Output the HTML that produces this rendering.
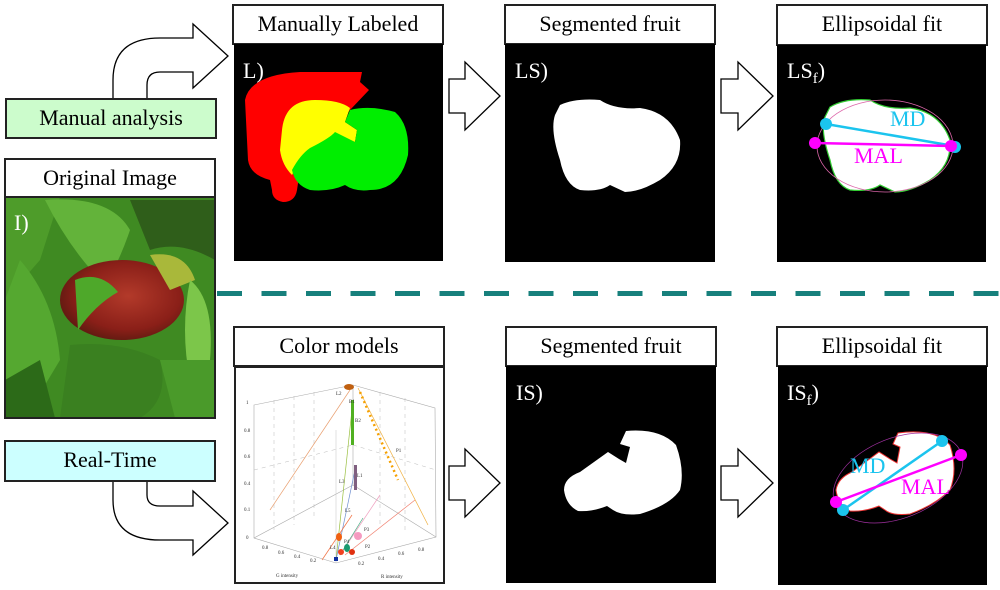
<!DOCTYPE html>
<html><head><meta charset="utf-8"><style>
html,body{margin:0;padding:0;background:#fff;width:1000px;height:590px;overflow:hidden}
svg{display:block}
text{font-family:"Liberation Serif",serif}
</style></head><body>
<svg width="1000" height="590" viewBox="0 0 1000 590" xmlns="http://www.w3.org/2000/svg">
<defs>
<radialGradient id="ap" cx="0.55" cy="0.45" r="0.6"><stop offset="0" stop-color="#b33a2a"/><stop offset="0.7" stop-color="#8a1f18"/><stop offset="1" stop-color="#5a1a10"/></radialGradient>
</defs>
<!-- dashed line -->
<line x1="217" y1="293.5" x2="1000" y2="293.5" stroke="#17807c" stroke-width="5" stroke-dasharray="25,19.5"/>

<!-- Top curved arrow -->
<path d="M113,98 L113,80 Q113,38 160,38 L193,38 L193,24 L228,56 L193,88 L193,72 L160,72 Q147,72 147,85 L147,98" fill="#fff" stroke="#000" stroke-width="1.3"/>
<!-- Manual analysis -->
<rect x="6" y="99" width="210" height="39" fill="#ccfccc" stroke="#222" stroke-width="2"/>
<text x="111" y="125" font-size="22" text-anchor="middle">Manual analysis</text>

<!-- Original Image -->
<rect x="5" y="159" width="210" height="38" fill="#fff" stroke="#222" stroke-width="2"/>
<text x="110" y="185" font-size="22" text-anchor="middle">Original Image</text>
<g>
<rect x="5" y="197" width="210" height="221" fill="#3f8a22"/>
<path d="M5,197 L60,197 L40,260 L5,300 Z" fill="#4e9c2a"/>
<path d="M45,200 Q110,195 130,230 Q120,260 105,285 Q70,250 45,200 Z" fill="#63b33a"/>
<path d="M130,200 L215,200 L215,260 Q180,240 150,250 Z" fill="#2f5e1a"/>
<ellipse cx="122" cy="300" rx="62" ry="40" fill="url(#ap)"/>
<path d="M150,255 Q185,250 195,280 L170,290 Z" fill="#a9b83a"/>
<path d="M75,280 Q100,270 118,292 Q95,305 78,330 Z" fill="#4ea82a"/>
<path d="M20,260 Q55,300 60,360 L30,410 L5,400 L5,300 Z" fill="#55a830"/>
<path d="M190,280 Q215,300 210,360 L190,380 Q180,330 190,280 Z" fill="#7cc64a"/>
<path d="M70,345 Q120,340 160,360 Q170,400 140,418 L60,418 Z" fill="#3a8020"/>
<path d="M160,360 L215,360 L215,418 L175,418 Z" fill="#4a9a2a"/>
<path d="M5,380 L40,360 L55,418 L5,418 Z" fill="#2c6a18"/>
<text x="14" y="230" font-size="22" fill="#fff">I)</text>
<rect x="5" y="197" width="210" height="221" fill="none" stroke="#222" stroke-width="2"/>
</g>

<!-- Manually Labeled -->
<rect x="233" y="5" width="210" height="39" fill="#fff" stroke="#222" stroke-width="2"/>
<text x="338" y="31" font-size="22" text-anchor="middle">Manually Labeled</text>
<rect x="234" y="44" width="209" height="217" fill="#000"/>
<text x="243" y="78" font-size="22" fill="#fff">L)</text>
<path d="M245,100 Q250,75 300,72 L362,72 L360,82 L369,90 L350,110 L330,130 L300,170 L297,190 Q295,202 283,202 Q272,200 272,190 L270,180 Q250,175 248,160 Z" fill="#f00"/>
<path d="M282,130 Q285,100 315,100 Q340,100 350,108 L345,122 L357,130 L355,142 L335,135 Q310,150 300,160 L292,175 Q282,165 280,150 Z" fill="#ff0"/>
<path d="M350,110 Q370,105 395,112 Q410,125 408,155 Q400,190 370,190 Q355,192 345,185 Q330,192 310,190 Q295,185 292,170 Q300,155 310,148 Q330,138 335,132 L355,142 L357,130 L345,122 Z" fill="#0e0"/>

<!-- arrows top -->
<path d="M449,79 L465,79 L465,62 L500,96 L465,130 L465,113 L449,113 Z" fill="#fff" stroke="#000" stroke-width="1.3"/>
<path d="M721,79 L738,79 L738,62 L773,96 L738,130 L738,113 L721,113 Z" fill="#fff" stroke="#000" stroke-width="1.3"/>

<!-- Segmented fruit top -->
<rect x="505" y="5" width="210" height="39" fill="#fff" stroke="#222" stroke-width="2"/>
<text x="610" y="31" font-size="22" text-anchor="middle">Segmented fruit</text>
<rect x="505" y="44" width="210" height="218" fill="#000"/>
<text x="515" y="78" font-size="22" fill="#fff">LS)</text>
<path d="M560,105 Q575,98 600,100 Q615,110 640,108 Q670,112 680,140 Q682,165 660,180 Q640,192 625,192 L610,185 Q600,192 580,190 Q565,185 560,160 Q550,130 555,115 Z" fill="#fff"/>

<!-- Ellipsoidal fit top -->
<rect x="777" y="5" width="210" height="40" fill="#fff" stroke="#222" stroke-width="2"/>
<text x="882" y="31" font-size="22" text-anchor="middle">Ellipsoidal fit</text>
<rect x="777" y="45" width="209" height="217" fill="#000"/>
<text x="787" y="78" font-size="22" fill="#fff">LS<tspan font-size="15" dy="5">f</tspan><tspan dy="-5">)</tspan></text>
<path d="M830,107 Q845,98 870,100 Q885,110 910,108 Q940,112 950,140 Q952,165 930,180 Q910,192 895,192 L880,185 Q870,192 850,190 Q835,185 830,160 Q820,130 825,117 Z" fill="#fff" stroke="#3c3" stroke-width="1.2"/>
<ellipse cx="885" cy="146" rx="68" ry="46" fill="none" stroke="#d6a" stroke-width="0.8"/>
<line x1="826" y1="124" x2="954" y2="146" stroke="#1bc4ee" stroke-width="2.5"/>
<line x1="815" y1="143" x2="951" y2="146" stroke="#f0f" stroke-width="2.5"/>
<circle cx="826" cy="124" r="6" fill="#1bc4ee"/><circle cx="955" cy="147" r="6" fill="#1bc4ee"/>
<circle cx="815" cy="143" r="6" fill="#f0f"/><circle cx="951" cy="146" r="6" fill="#f0f"/>
<text x="890" y="126" font-size="22" fill="#1bc4ee">MD</text>
<text x="854" y="163" font-size="22" fill="#f0f">MAL</text>

<!-- Real-Time -->
<rect x="5" y="441" width="210" height="40" fill="#ccffff" stroke="#222" stroke-width="2"/>
<text x="110" y="467" font-size="22" text-anchor="middle">Real-Time</text>
<path d="M113,482 L113,500 Q113,540 160,540 L193,540 L193,555 L228,523 L193,491 L193,506 L160,506 Q147,506 147,495 L147,482" fill="#fff" stroke="#000" stroke-width="1.3"/>

<!-- Color models -->
<rect x="234" y="327" width="210" height="39" fill="#fff" stroke="#222" stroke-width="2"/>
<text x="339" y="353" font-size="22" text-anchor="middle">Color models</text>
<rect x="235" y="367" width="209" height="216" fill="#fff" stroke="#222" stroke-width="2"/>
<g stroke="#aaa" stroke-width="0.6" fill="none">
<path d="M254,405 L353,385 L435,408 L436,537 L336,563 L254,538 Z"/>
<path d="M353,385 L353,485 M254,538 L353,485 M436,537 L353,485"/>
<path d="M336,563 L336,430" stroke="#ccc"/>
</g>
<g stroke="#bbb" stroke-width="0.5" stroke-dasharray="4,4">
<line x1="274" y1="400" x2="274" y2="530"/><line x1="294" y1="396" x2="294" y2="525"/><line x1="314" y1="392" x2="314" y2="520"/>
<line x1="380" y1="392" x2="380" y2="525"/><line x1="405" y1="398" x2="405" y2="530"/>
<line x1="254" y1="470" x2="353" y2="445"/><line x1="353" y1="445" x2="436" y2="470"/>
</g>
<g stroke-width="0.7" fill="none">
<line x1="270" y1="510" x2="350" y2="390" stroke="#e9a070"/>
<line x1="358" y1="388" x2="428" y2="525" stroke="#f0b040"/>
<line x1="336" y1="560" x2="353" y2="400" stroke="#9ac040"/>
<line x1="336" y1="560" x2="355" y2="470" stroke="#7090d0"/>
<line x1="345" y1="555" x2="415" y2="500" stroke="#f08070"/>
<line x1="340" y1="555" x2="380" y2="495" stroke="#f0a0c0"/>
<line x1="340" y1="555" x2="363" y2="518" stroke="#40b080"/>
<line x1="322" y1="560" x2="352" y2="515" stroke="#f07040"/>
</g>
<g>
<ellipse cx="349" cy="387" rx="5" ry="3" fill="#c06010"/>
<rect x="351" y="400" width="3" height="45" fill="#50b020"/>
<path d="M360,392 L398,480" stroke="#f5a000" stroke-width="2.5" stroke-dasharray="2,3"/>
<rect x="354" y="465" width="3" height="25" fill="#806080"/>
<ellipse cx="358" cy="536" rx="4" ry="4" fill="#f59ac0"/>
<ellipse cx="347" cy="548" rx="3" ry="4" fill="#1a9a70"/>
<ellipse cx="341" cy="552" rx="3" ry="3" fill="#f04020"/>
<ellipse cx="352" cy="552" rx="3" ry="3" fill="#e03010"/>
<ellipse cx="339" cy="537" rx="3" ry="4" fill="#f06010"/>
<rect x="334" y="557" width="4" height="4" fill="#1030a0"/>
</g>
<g font-family="Liberation Sans,sans-serif" font-size="5" fill="#333">
<text x="336" y="395">L2</text><text x="349" y="403">B1</text><text x="355" y="422">B2</text><text x="396" y="452">P1</text>
<text x="357" y="477">L1</text><text x="339" y="483">L3</text><text x="345" y="512">L5</text><text x="364" y="531">P3</text>
<text x="344" y="543">P4</text><text x="365" y="548">P2</text><text x="330" y="549">L4</text>
<text x="246" y="404">1</text><text x="244" y="432">0.8</text><text x="244" y="458">0.6</text><text x="244" y="485">0.4</text><text x="244" y="511">0.1</text>
<text x="246" y="539">0</text><text x="262" y="549">0.8</text><text x="278" y="554">0.6</text><text x="294" y="558">0.4</text><text x="310" y="562">0.2</text>
<text x="358" y="565">0.2</text><text x="378" y="560">0.4</text><text x="398" y="555">0.6</text><text x="418" y="551">0.8</text>
<text x="276" y="577">G intensity</text><text x="381" y="578">R intensity</text>
</g>

<!-- arrows bottom -->
<path d="M449,466 L465,466 L465,449 L500,483 L465,517 L465,500 L449,500 Z" fill="#fff" stroke="#000" stroke-width="1.3"/>
<path d="M721,466 L738,466 L738,449 L773,483 L738,517 L738,500 L721,500 Z" fill="#fff" stroke="#000" stroke-width="1.3"/>

<!-- Segmented fruit bottom -->
<rect x="506" y="327" width="210" height="39" fill="#fff" stroke="#222" stroke-width="2"/>
<text x="611" y="353" font-size="22" text-anchor="middle">Segmented fruit</text>
<rect x="506" y="366" width="210" height="217" fill="#000"/>
<text x="516" y="400" font-size="22" fill="#fff">IS)</text>
<path d="M626,431 Q660,428 676,445 Q685,470 680,490 Q670,505 640,514 Q622,516 613,510 L607,506 Q592,512 578,511 Q566,505 564,490 Q564,478 580,472 L608,452 L619,459 L626,463 L630,447 L620,444 Z" fill="#fff"/>

<!-- Ellipsoidal fit bottom -->
<rect x="777" y="327" width="210" height="39" fill="#fff" stroke="#222" stroke-width="2"/>
<text x="882" y="353" font-size="22" text-anchor="middle">Ellipsoidal fit</text>
<rect x="778" y="366" width="209" height="219" fill="#000"/>
<text x="787" y="400" font-size="22" fill="#fff">IS<tspan font-size="15" dy="5">f</tspan><tspan dy="-5">)</tspan></text>
<path d="M898,433 Q935,428 950,445 Q958,470 950,490 Q935,505 910,514 Q892,516 885,510 L879,506 Q864,512 850,511 Q838,505 836,490 Q838,478 852,472 L879,452 L890,459 L897,463 L900,447 L893,444 Z" fill="#fff" stroke="#e33" stroke-width="1"/>
<ellipse cx="898" cy="478" rx="68" ry="40" transform="rotate(-22 898 478)" fill="none" stroke="#a030a0" stroke-width="0.7"/>
<line x1="843" y1="510" x2="942" y2="441" stroke="#1bc4ee" stroke-width="2.5"/>
<line x1="836" y1="502" x2="961" y2="455" stroke="#f0f" stroke-width="2.5"/>
<circle cx="843" cy="510" r="6" fill="#1bc4ee"/><circle cx="942" cy="441" r="6" fill="#1bc4ee"/>
<circle cx="836" cy="502" r="6" fill="#f0f"/><circle cx="961" cy="455" r="6" fill="#f0f"/>
<text x="850" y="473" font-size="22" fill="#1bc4ee">MD</text>
<text x="901" y="494" font-size="22" fill="#f0f">MAL</text>
</svg>
</body></html>
